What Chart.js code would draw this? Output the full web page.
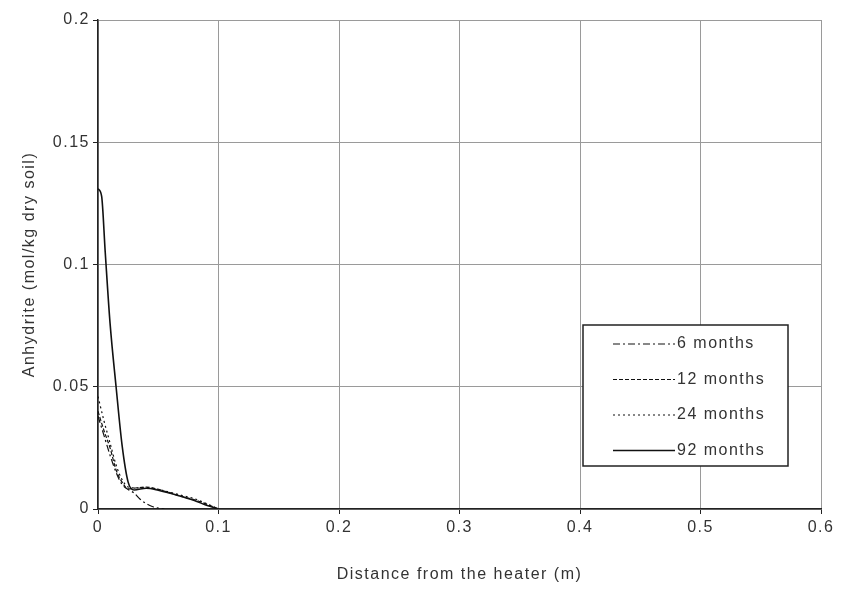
<!DOCTYPE html>
<html><head><meta charset="utf-8">
<script src="https://cdn.jsdelivr.net/npm/chart.js@4.4.1/dist/chart.umd.min.js"></script>
<style>html,body{margin:0;padding:0;background:#fff}#wrap{width:846px;height:589px}</style>
</head><body><div id="wrap"><canvas id="c" width="846" height="589"></canvas></div>
<script>
const seriesNames = ["6 months", "12 months", "24 months", "92 months"];
const x6 = [0, 0.005, 0.01, 0.015, 0.02, 0.025, 0.03, 0.035, 0.04, 0.045, 0.05, 0.055];
const y6 = [0.038, 0.030, 0.022, 0.015, 0.010, 0.008, 0.0065, 0.004, 0.0022, 0.001, 0.0004, 0];
const x12 = [0, 0.005, 0.01, 0.015, 0.02, 0.025, 0.03, 0.04, 0.05, 0.06, 0.07, 0.08, 0.09, 0.1];
const y12 = [0.040, 0.032, 0.025, 0.016, 0.011, 0.0082, 0.0085, 0.009, 0.008, 0.0066, 0.005, 0.0038, 0.002, 0];
const x24 = [0, 0.005, 0.01, 0.015, 0.02, 0.025, 0.03, 0.04, 0.05, 0.06, 0.07, 0.08, 0.09, 0.1];
const y24 = [0.046, 0.036, 0.027, 0.018, 0.012, 0.009, 0.0086, 0.0088, 0.008, 0.0068, 0.0055, 0.0042, 0.0022, 0];
const x92 = [0, 0.003, 0.006, 0.01, 0.015, 0.02, 0.025, 0.03, 0.04, 0.05, 0.06, 0.07, 0.08, 0.09, 0.1];
const y92 = [0.131, 0.128, 0.105, 0.076, 0.050, 0.026, 0.011, 0.0078, 0.0085, 0.0077, 0.0064, 0.005, 0.0035, 0.0015, 0];
const xTicks = [0, 0.1, 0.2, 0.3, 0.4, 0.5, 0.6];
const yTicks = [0, 0.05, 0.1, 0.15, 0.2];

const FONT = '"Liberation Sans", Arial, sans-serif';
const TXT = '#333';
const pts = (xs, ys) => xs.map((x, i) => ({x: x, y: ys[i]}));
const dashes = [[7,3,2,3],[4,2],[2,3],[]];
const widths = [1.2,1.2,1.2,1.6];
const xsAll = [x6, x12, x24, x92], ysAll = [y6, y12, y24, y92];
const datasets = seriesNames.map((n, i) => ({
  label: n, data: pts(xsAll[i], ysAll[i]), showLine: true, borderColor: '#111',
  borderWidth: widths[i], borderDash: dashes[i], pointRadius: 0,
  cubicInterpolationMode: 'monotone', fill: false
}));

const spacing = {
  id: 'spacing',
  beforeInit(chart) { chart.ctx.letterSpacing = '1.5px'; },
  beforeDraw(chart) { chart.ctx.letterSpacing = '1.5px'; }
};

const legendBox = {
  id: 'legendBox',
  afterDraw(chart) {
    const ctx = chart.ctx;
    ctx.save();
    const bx = 583, by = 325, bw = 205, bh = 141;
    ctx.fillStyle = '#fff'; ctx.fillRect(bx, by, bw, bh);
    ctx.strokeStyle = '#222'; ctx.lineWidth = 1.5; ctx.strokeRect(bx, by, bw, bh);
    ctx.font = '16px ' + FONT;
    ctx.letterSpacing = '1.5px';
    ctx.textBaseline = 'middle'; ctx.fillStyle = TXT;
    chart.data.datasets.forEach((ds, i) => {
      const yy = by + 19 + i * 35.5;
      ctx.beginPath(); ctx.setLineDash(ds.borderDash); ctx.lineWidth = ds.borderWidth;
      ctx.strokeStyle = '#111'; ctx.moveTo(bx + 30, yy); ctx.lineTo(bx + 92, yy); ctx.stroke();
      ctx.setLineDash([]);
      ctx.fillText(ds.label, bx + 94, yy);
    });
    ctx.restore();
  }
};

new Chart(document.getElementById('c'), {
  type: 'scatter',
  data: {datasets: datasets},
  options: {
    responsive: false, animation: false, devicePixelRatio: 1,
    layout: {padding: {left: 0, right: 25, top: 20, bottom: 0}},
    plugins: {legend: {display: false}, tooltip: {enabled: false}},
    scales: {
      x: {
        type: 'linear', min: 0, max: 0.6,
        afterBuildTicks: s => { s.ticks = xTicks.map(v => ({value: v})); },
        afterFit: s => { s.height = 80; },
        grid: {color: '#9a9a9a', lineWidth: 1, tickLength: 5, tickColor: '#222'},
        border: {color: '#222', width: 1.5},
        ticks: {color: TXT, font: {family: FONT, size: 16}, padding: 4, maxRotation: 0,
          callback: v => String(v)},
        title: {display: true, text: 'Distance from the heater (m)', color: TXT,
          font: {family: FONT, size: 16}, padding: {top: 4, bottom: 5}}
      },
      y: {
        min: 0, max: 0.2,
        afterBuildTicks: s => { s.ticks = yTicks.map(v => ({value: v})); },
        afterFit: s => { s.width = 98; },
        grid: {color: '#9a9a9a', lineWidth: 1, tickLength: 5, tickColor: '#222'},
        border: {color: '#222', width: 1.5},
        ticks: {color: TXT, font: {family: FONT, size: 16}, padding: 3,
          callback: v => String(v)},
        title: {display: true, text: 'Anhydrite (mol/kg dry soil)', color: TXT,
          font: {family: FONT, size: 16}, padding: {top: 20, bottom: 4}}
      }
    }
  },
  plugins: [spacing, legendBox]
});
</script></body></html>
